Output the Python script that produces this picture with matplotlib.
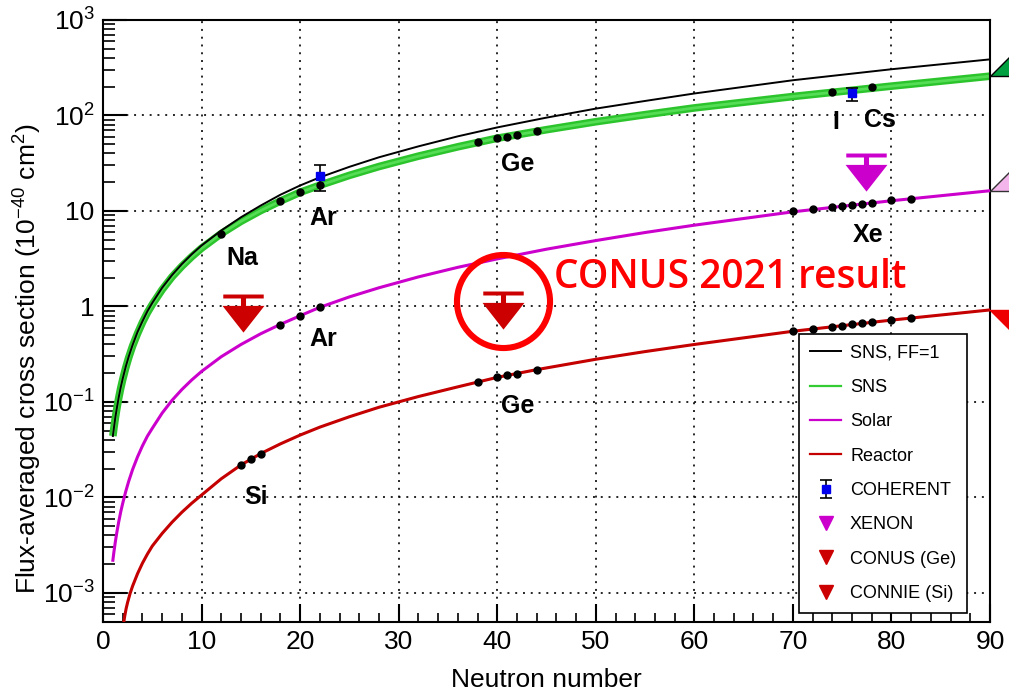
import numpy as np
import matplotlib
matplotlib.use('Agg')
import matplotlib.pyplot as plt
import matplotlib.transforms as mtransforms
from matplotlib.path import Path
from matplotlib.lines import Line2D
from matplotlib.ticker import FixedLocator, FixedFormatter, LogLocator, NullFormatter

plt.rcParams['font.family'] = ['Liberation Sans', 'DejaVu Sans']
plt.rcParams['mathtext.fontset'] = 'custom'
plt.rcParams['mathtext.rm'] = 'Liberation Sans'
plt.rcParams['mathtext.it'] = 'Liberation Sans:italic'
plt.rcParams['mathtext.bf'] = 'Liberation Sans:bold'

# flux-averaged cross sections (1e-40 cm^2) vs neutron number
n_curve = [1, 1.1, 1.25, 1.4, 1.6, 1.8, 2, 2.3, 2.6, 3, 3.5, 4, 4.5, 5, 6, 7, 8, 9, 10, 12, 14,
           16, 18, 20, 22, 25, 28, 32, 36, 40, 45, 50, 55, 60, 70, 80, 90]
sns_ff1 = [0.044, 0.053, 0.069, 0.086, 0.113, 0.143, 0.176, 0.233, 0.297, 0.395, 0.54, 0.70, 0.89,
           1.09, 1.57, 2.13, 2.78, 3.52, 4.35, 6.25, 8.6, 11.4, 14.8, 18.5, 22.5, 29, 36.5, 47.5,
           60.5, 75, 95, 118, 142, 170, 234, 305, 387]
sns = [0.044, 0.053, 0.068, 0.085, 0.111, 0.140, 0.172, 0.227, 0.29, 0.385, 0.52, 0.68, 0.86,
       1.05, 1.5, 2.04, 2.64, 3.32, 4.08, 5.8, 7.8, 10.1, 12.7, 15.7, 18.6, 23.6, 29.2, 37.5,
       47, 57.8, 71, 86, 102, 120, 158, 203, 258]
solar = [0.0022, 0.00266, 0.00343, 0.0043, 0.0056, 0.0071, 0.0087, 0.0115, 0.0147, 0.0196,
         0.0266, 0.0347, 0.0438, 0.053, 0.0765, 0.104, 0.135, 0.170, 0.209, 0.298, 0.40, 0.518,
         0.65, 0.80, 0.98, 1.26, 1.57, 2.04, 2.57, 3.15, 3.98, 4.9, 5.95, 7.1, 9.8, 12.8, 16.3]
n_reactor = [2.1, 2.2, 2.35, 2.5, 2.75, 3, 3.5, 4, 4.5, 5, 6, 7, 8, 9, 10, 12, 14, 16, 18, 20,
             22, 25, 28, 32, 36, 40, 44, 50, 55, 60, 70, 80, 90]
reactor = [0.00049, 0.00057, 0.00069, 0.0008, 0.00099, 0.00118, 0.00159, 0.00205, 0.00255,
           0.0031, 0.0042, 0.0055, 0.0070, 0.0087, 0.0106, 0.0157, 0.0219, 0.0288, 0.0364, 0.045,
           0.0545, 0.070, 0.088, 0.114, 0.144, 0.181, 0.218, 0.28, 0.337, 0.40, 0.55, 0.72, 0.92]

# isotopes marked on the curves
sns_dot_n = [12, 18, 20, 22, 38, 40, 41, 42, 44, 74, 78]
sns_dot = [5.8, 12.7, 15.7, 18.6, 52.5, 57.8, 59.5, 63, 68, 176, 198]
solar_dot_n = [18, 20, 22, 70, 72, 74, 75, 76, 77, 78, 80, 82]
solar_dot = [0.646, 0.80, 0.98, 9.9, 10.4, 11.0, 11.3, 11.6, 11.9, 12.2, 12.9, 13.4]
reactor_dot_n = [14, 15, 16, 38, 40, 41, 42, 44, 70, 72, 74, 75, 76, 77, 78, 80, 82]
reactor_dot = [0.0219, 0.025, 0.0288, 0.160, 0.181, 0.19, 0.196, 0.218, 0.55, 0.58, 0.615,
               0.63, 0.65, 0.665, 0.68, 0.72, 0.76]

# measurements and upper limits
coh_n = [22, 76]
coh_val = [23, 170]
coh_lo = [16, 142]
coh_hi = [30, 192]
xenon_n, xenon_lim = 77.4, 38.3
conus_n, conus_lim = 40.6, 1.38
connie_n, connie_lim = 14.2, 1.28

element_labels = ['Na', 'Ar', 'Ar', 'Ge', 'Ge', 'Si', 'I', 'Cs', 'Xe']
label_n = [14.15, 22.3, 22.3, 42.1, 42.1, 15.5, 74.4, 78.8, 77.6]
label_val = [3.18, 8.4, 0.46, 30.8, 0.091, 0.0101, 85.7, 89, 5.55]

ytick_vals = [1e-3, 1e-2, 1e-1, 1, 10, 1e2, 1e3]
ytick_text = ['$10^{-3}$', '$10^{-2}$', '$10^{-1}$', '1', '10', '$10^{2}$', '$10^{3}$']

c_green = '#33cc33'
c_mag = '#cc00cc'
c_red = '#c40000'

# upper-limit symbol: bar, short stem and a downward triangle below the limit
lim_verts = [(-0.56, 0.055), (0.56, 0.055), (0.56, -0.055), (-0.56, -0.055), (0, 0),
             (-0.07, -0.055), (0.07, -0.055), (0.07, -0.27), (-0.07, -0.27), (0, 0),
             (-0.58, -0.26), (0.58, -0.26), (0, -1.0), (0, 0)]
lim_codes = [Path.MOVETO, Path.LINETO, Path.LINETO, Path.LINETO, Path.CLOSEPOLY] * 2 + \
            [Path.MOVETO, Path.LINETO, Path.LINETO, Path.CLOSEPOLY]
limit_marker = Path(lim_verts, lim_codes)
up_arrow = Path([(0, 0), (1, 1), (1, 0), (0, 0)],
                [Path.MOVETO, Path.LINETO, Path.LINETO, Path.CLOSEPOLY])
down_arrow = Path([(0, 0), (1, 0), (1, -1), (0, 0)],
                  [Path.MOVETO, Path.LINETO, Path.LINETO, Path.CLOSEPOLY])

fig = plt.figure(figsize=(10.09, 6.92), dpi=100)
ax = fig.add_axes([0.1021, 0.1016, 0.8791, 0.8695])

ax.plot(n_curve, sns, color='#2cc42c', lw=5.5, zorder=2, solid_capstyle='butt')
ax.plot(n_curve, sns, color='#55dd55', lw=2, zorder=2, solid_capstyle='butt')
ax.plot(n_curve, sns_ff1, color='black', lw=1.4, zorder=3)
ax.plot(n_curve, solar, color=c_mag, lw=2.2, zorder=3)
ax.plot(n_reactor, reactor, color=c_red, lw=2.2, zorder=3)

for xs, ys in [(sns_dot_n, sns_dot), (solar_dot_n, solar_dot), (reactor_dot_n, reactor_dot)]:
    ax.plot(xs, ys, 'o', color='black', ms=5, zorder=5)

ax.errorbar(coh_n, coh_val,
            yerr=[np.array(coh_val) - np.array(coh_lo), np.array(coh_hi) - np.array(coh_val)],
            fmt='s', color='#0000ee', ms=6, ecolor='black', elinewidth=1.2, capsize=4,
            capthick=1.2, zorder=6)

ax.plot(connie_n, connie_lim, marker=limit_marker, ms=52, color='#cc0000', mew=0, zorder=6)
ax.plot(conus_n, conus_lim, marker=limit_marker, ms=52, color='#cc0000', mew=0, zorder=6)
ax.plot(xenon_n, xenon_lim, marker=limit_marker, ms=52, color=c_mag, mew=0, zorder=6)

# arrows hanging off the right edge at the curve ends
ax.plot(n_curve[-1], sns[-1], marker=up_arrow, ms=58, mfc='#00a040', mec='black', mew=1,
        clip_on=False, zorder=7)
ax.plot(n_curve[-1], solar[-1], marker=up_arrow, ms=58, mfc='#f4b4ec', mec='#333333', mew=1,
        clip_on=False, zorder=7)
ax.plot(n_reactor[-1], reactor[-1], marker=down_arrow, ms=58, mfc='#ee0000', mec='#ee0000',
        mew=1, clip_on=False, zorder=7)

for txt, xv, yv in zip(element_labels, label_n, label_val):
    ax.text(xv, yv, txt, fontsize=18, fontweight='bold', ha='center', va='center', zorder=8)

# highlight of the CONUS limit
circ_tr = mtransforms.offset_copy(ax.transData, fig=fig, x=0, y=-8, units='dots')
ax.plot(conus_n, conus_lim, marker='o', ms=67, mfc='none', mec='#ff0000', mew=4.4,
        transform=circ_tr, zorder=9)
ax.text(45.8, 1.58, 'CONUS 2021 result', color='#ff0000', fontsize=28, family='Open Sans',
        fontweight='semibold', va='baseline', ha='left', zorder=9)

ax.set_xlim(0, 90)
ax.set_yscale('log')
ax.set_ylim(5e-4, 1e3)
ax.xaxis.set_major_locator(FixedLocator(range(0, 91, 10)))
ax.xaxis.set_minor_locator(FixedLocator(range(0, 91, 2)))
ax.yaxis.set_major_locator(FixedLocator(ytick_vals))
ax.yaxis.set_major_formatter(FixedFormatter(ytick_text))
ax.yaxis.set_minor_locator(LogLocator(base=10, subs=range(2, 10)))
ax.yaxis.set_minor_formatter(NullFormatter())

ax.tick_params(which='both', direction='in', top=False, right=False, labelsize=19)
ax.tick_params(axis='y', which='major', length=17, width=1.5, pad=6)
ax.tick_params(axis='y', which='minor', length=8.5, width=1.2)
ax.tick_params(axis='x', which='major', length=13, width=1.5, pad=6)
ax.tick_params(axis='x', which='minor', length=6.5, width=1.2)
for sp in ax.spines.values():
    sp.set_linewidth(1.5)

ax.grid(which='major', color='black', ls=(0, (1, 3)), lw=1.4, alpha=0.85)

ax.set_xlabel('Neutron number', fontsize=19, labelpad=10)
ax.set_ylabel('Flux-averaged cross section (10$^{-40}$ cm$^{2}$)', fontsize=19)
ax.yaxis.set_label_coords(-0.066, 0.437)

handles = [
    Line2D([], [], color='black', lw=1.4),
    Line2D([], [], color=c_green, lw=1.6),
    Line2D([], [], color=c_mag, lw=1.6),
    Line2D([], [], color=c_red, lw=1.6),
    ax.containers[0],
    Line2D([], [], ls='none', marker='v', color=c_mag, ms=10),
    Line2D([], [], ls='none', marker='v', color='#cc0000', ms=10),
    Line2D([], [], ls='none', marker='v', color='#cc0000', ms=10),
]
labels = ['SNS, FF=1', 'SNS', 'Solar', 'Reactor', 'COHERENT', 'XENON', 'CONUS (Ge)', 'CONNIE (Si)']
leg = ax.legend(handles, labels, loc='lower right', bbox_to_anchor=(0.974, 0.0145),
                borderaxespad=0, fontsize=13, frameon=True, fancybox=False, framealpha=1,
                edgecolor='black', handlelength=1.7, handletextpad=0.5, labelspacing=0.96,
                borderpad=0.6)
leg.get_frame().set_linewidth(1.2)
leg.set_zorder(10)

fig.savefig('out.png', dpi=100)
